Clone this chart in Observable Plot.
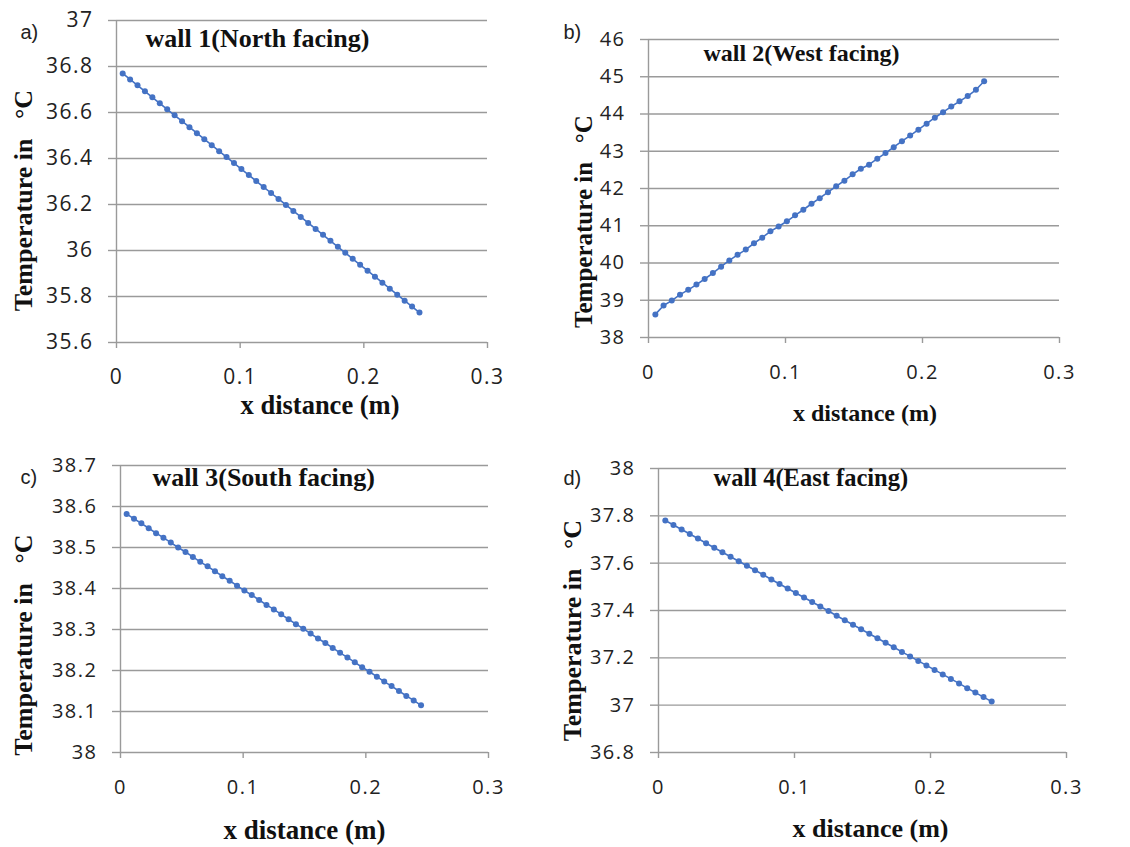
<!DOCTYPE html>
<html>
<head>
<meta charset="utf-8">
<script src="https://cdn.jsdelivr.net/npm/d3@7"></script>
<script src="https://cdn.jsdelivr.net/npm/@observablehq/plot@0.6"></script>
<style>
  html, body { margin: 0; padding: 0; background: #fff; }
  #root { position: relative; width: 1130px; height: 847px; overflow: hidden; background: #fff; }
  .panel { position: absolute; }
  .panel svg { overflow: visible; }
  .panel svg g[aria-label="y-axis tick label"] text,
  .panel svg g[aria-label="x-axis tick label"] text { letter-spacing: 1.5px; }
</style>
</head>
<body>
<div id="root"></div>
<script>
// ---------- data ----------
const xDistance = [0.005, 0.011, 0.017, 0.023, 0.029, 0.035, 0.041, 0.047, 0.053, 0.059,
  0.065, 0.071, 0.077, 0.083, 0.089, 0.095, 0.101, 0.107, 0.113, 0.119,
  0.125, 0.131, 0.137, 0.143, 0.149, 0.155, 0.161, 0.167, 0.173, 0.179,
  0.185, 0.191, 0.197, 0.203, 0.209, 0.215, 0.221, 0.227, 0.233, 0.239, 0.245];

const wall1Temp = [36.770, 36.744, 36.718, 36.692, 36.666, 36.640, 36.614, 36.588, 36.562, 36.536,
  36.510, 36.484, 36.458, 36.432, 36.406, 36.380, 36.354, 36.328, 36.302, 36.276,
  36.250, 36.224, 36.198, 36.172, 36.146, 36.120, 36.094, 36.068, 36.042, 36.016,
  35.990, 35.964, 35.938, 35.912, 35.886, 35.860, 35.834, 35.808, 35.782, 35.756, 35.730];

const wall2Temp = [38.62, 38.86, 38.99, 39.15, 39.28, 39.42, 39.57, 39.73, 39.90, 40.07,
  40.22, 40.36, 40.53, 40.68, 40.85, 40.98, 41.12, 41.28, 41.43, 41.59,
  41.74, 41.90, 42.06, 42.21, 42.38, 42.53, 42.64, 42.80, 42.95, 43.11,
  43.27, 43.42, 43.58, 43.74, 43.90, 44.05, 44.20, 44.34, 44.48, 44.65, 44.88];

const wall3Temp = [38.582, 38.570, 38.559, 38.547, 38.535, 38.524, 38.512, 38.500, 38.489, 38.477,
  38.465, 38.454, 38.442, 38.430, 38.419, 38.407, 38.395, 38.384, 38.372, 38.360,
  38.349, 38.337, 38.325, 38.313, 38.302, 38.290, 38.278, 38.267, 38.255, 38.243,
  38.232, 38.220, 38.208, 38.197, 38.185, 38.173, 38.162, 38.150, 38.138, 38.127, 38.115];

const wall4Temp = [37.780, 37.761, 37.742, 37.723, 37.704, 37.684, 37.665, 37.646, 37.627, 37.608,
  37.589, 37.570, 37.551, 37.531, 37.512, 37.493, 37.474, 37.455, 37.436, 37.417,
  37.398, 37.378, 37.359, 37.340, 37.321, 37.302, 37.283, 37.264, 37.245, 37.225,
  37.206, 37.187, 37.168, 37.149, 37.130, 37.111, 37.092, 37.072, 37.053, 37.034, 37.015];

const xTicks = [0, 0.1, 0.2, 0.3];
const yTicks1 = [35.6, 35.8, 36, 36.2, 36.4, 36.6, 36.8, 37];
const yTicks2 = [38, 39, 40, 41, 42, 43, 44, 45, 46];
const yTicks3 = [38, 38.1, 38.2, 38.3, 38.4, 38.5, 38.6, 38.7];
const yTicks4 = [36.8, 37, 37.2, 37.4, 37.6, 37.8, 38];

const panelLetters = ["a)", "b)", "c)", "d)"];
const panelTitles = ["wall 1(North facing)", "wall 2(West facing)", "wall 3(South facing)", "wall 4(East facing)"];
const xTitle = "x distance (m)";
const yTitle = "Temperature in\u00A0\u00A0\u00A0°C";

// ---------- layout (styling only) ----------
const BLUE = "#4472C4";
const GRID = "#9a9a9a";
const SANS = "'Open Sans', Lato, sans-serif";
const SERIF = "'Liberation Serif', 'DejaVu Serif', serif";

const panels = [
  { temps: wall1Temp, yTicks: yTicks1, left: 0, top: 0, width: 500, height: 420,
    m: [20, 13, 78, 116], tickFs: 21, titleFs: 26, axisFs: 26.5, yTitleFs: 26,
    letter: [-96, 12], title: [29, 18], yt: [-93, 19], xt: [18, 63] },
  { temps: wall2Temp, yTicks: yTicks2, left: 560, top: 0, width: 570, height: 430,
    m: [39, 71, 93, 88], tickFs: 20, titleFs: 24, axisFs: 24, yTitleFs: 25,
    letter: [-85, -7], title: [55, 14], yt: [-65, 33], xt: [11, 76] },
  { temps: wall3Temp, yTicks: yTicks3, left: 0, top: 440, width: 500, height: 407,
    m: [25, 12, 95, 120], tickFs: 20, titleFs: 26, axisFs: 27, yTitleFs: 26,
    letter: [-100, 12], title: [32, 12], yt: [-97, 36], xt: [0, 78] },
  { temps: wall4Temp, yTicks: yTicks4, left: 560, top: 440, width: 570, height: 407,
    m: [28, 64, 95, 98], tickFs: 20, titleFs: 24.5, axisFs: 26, yTitleFs: 26,
    letter: [-95, 10], title: [55, 10], yt: [-86, 20], xt: [8, 76] }
];

const fmt = d => `${+d.toFixed(2)}`;
const root = document.getElementById("root");

panels.forEach((p, i) => {
  const data = xDistance.map((x, j) => ({ x, t: p.temps[j] }));
  const yDomain = [d3.min(p.yTicks), d3.max(p.yTicks)];
  const chart = Plot.plot({
    width: p.width,
    height: p.height,
    marginTop: p.m[0], marginRight: p.m[1], marginBottom: p.m[2], marginLeft: p.m[3],
    style: { fontFamily: SANS, color: "#222", background: "transparent", overflow: "visible" },
    x: { domain: [0, 0.3], label: null },
    y: { domain: yDomain, label: null },
    marks: [
      Plot.gridY(p.yTicks, { stroke: GRID, strokeOpacity: 1, strokeWidth: 1.4 }),
      Plot.ruleX([0], { stroke: GRID, strokeWidth: 1.4 }),
      Plot.axisY({ ticks: p.yTicks, tickFormat: fmt, tickSize: 8, tickPadding: 15,
        stroke: GRID, strokeWidth: 1.4, fontSize: p.tickFs, fill: "#222", label: null }),
      Plot.axisX({ ticks: xTicks, tickFormat: fmt, tickSize: 6, tickPadding: 21,
        stroke: GRID, strokeWidth: 1.4, fontSize: p.tickFs, fill: "#222", label: null }),
      Plot.line(data, { x: "x", y: "t", stroke: BLUE, strokeWidth: 1.6 }),
      Plot.dot(data, { x: "x", y: "t", r: 3, fill: BLUE, stroke: "none" }),
      Plot.text([panelLetters[i]], { frameAnchor: "top-left", dx: p.letter[0], dy: p.letter[1],
        textAnchor: "start", lineAnchor: "middle", fontSize: 20, fontFamily: "'Liberation Sans', Arial, sans-serif", fill: "#222" }),
      Plot.text([panelTitles[i]], { frameAnchor: "top-left", dx: p.title[0], dy: p.title[1],
        textAnchor: "start", lineAnchor: "middle", fontSize: p.titleFs, fontWeight: "bold", fontFamily: SERIF, fill: "#111" }),
      Plot.text([yTitle], { frameAnchor: "left", dx: p.yt[0], dy: p.yt[1], rotate: -90,
        textAnchor: "middle", lineAnchor: "middle", fontSize: p.yTitleFs, fontWeight: "bold", fontFamily: SERIF, fill: "#111" }),
      Plot.text([xTitle], { frameAnchor: "bottom", dx: p.xt[0], dy: p.xt[1],
        textAnchor: "middle", lineAnchor: "middle", fontSize: p.axisFs, fontWeight: "bold", fontFamily: SERIF, fill: "#111" })
    ]
  });
  const div = document.createElement("div");
  div.className = "panel";
  div.style.left = p.left + "px";
  div.style.top = p.top + "px";
  div.appendChild(chart);
  root.appendChild(div);
});
</script>
</body>
</html>
